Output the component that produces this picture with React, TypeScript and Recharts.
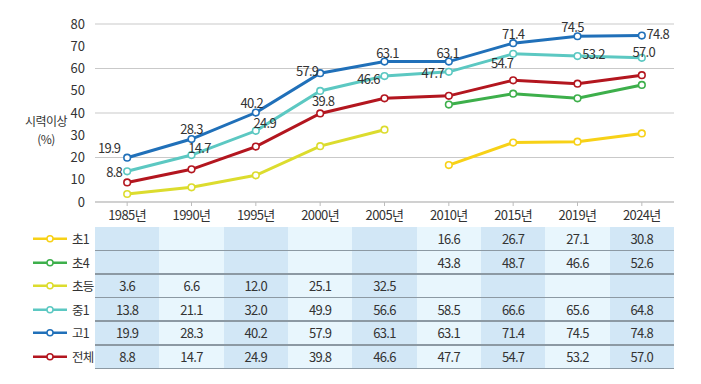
import React from 'react';
import { ComposedChart, Line, XAxis, YAxis, CartesianGrid, LabelList } from 'recharts';

const years = ['1985년', '1990년', '1995년', '2000년', '2005년', '2010년', '2015년', '2019년', '2024년'];
const yTicks = [0, 10, 20, 30, 40, 50, 60, 70, 80];

const cho1 = [null, null, null, null, null, 16.6, 26.7, 27.1, 30.8];
const cho4 = [null, null, null, null, null, 43.8, 48.7, 46.6, 52.6];
const chodeung = [3.6, 6.6, 12.0, 25.1, 32.5, null, null, null, null];
const jung1 = [13.8, 21.1, 32.0, 49.9, 56.6, 58.5, 66.6, 65.6, 64.8];
const go1 = [19.9, 28.3, 40.2, 57.9, 63.1, 63.1, 71.4, 74.5, 74.8];
const total = [8.8, 14.7, 24.9, 39.8, 46.6, 47.7, 54.7, 53.2, 57.0];

const series = [
  { key: 'cho1', name: '초1', values: cho1, color: '#f7d117' },
  { key: 'cho4', name: '초4', values: cho4, color: '#3daf4b' },
  { key: 'chodeung', name: '초등', values: chodeung, color: '#dcdc2e' },
  { key: 'jung1', name: '중1', values: jung1, color: '#5cc8c2' },
  { key: 'go1', name: '고1', values: go1, color: '#2070b9' },
  { key: 'total', name: '전체', values: total, color: '#b3161f' },
];

const data = years.map((y, i) => {
  const row: any = { year: y };
  series.forEach((s) => (row[s.key] = s.values[i]));
  return row;
});

// label nudges relative to each point (hand-placed like the original)
const go1Offsets = [[-18, -10], [0, -11], [-4, -10], [-13, -3], [3, -9], [-1, -9], [0, -10], [-5, -10], [16, -2]];
const totalOffsets = [[-13, -11], [8, -22], [9, -24], [3, -13], [-16, -20], [-16, -23], [-11, -18], [16, -30], [2, -24]];

const FONT = '"Noto Sans CJK KR", "Noto Sans", sans-serif';

const makeLabel = (offsets: number[][]) => (props: any) => {
  const { x, y, value, index } = props;
  if (value == null) return null;
  const [dx, dy] = offsets[index];
  return (
    <text x={x + dx} y={y + dy} textAnchor="middle" dominantBaseline="central"
      fontSize={13} fill="#333" letterSpacing={-0.7} fontFamily={FONT}>
      {value.toFixed(1)}
    </text>
  );
};

const Dot = (color: string) => (props: any) => {
  const { cx, cy, value } = props;
  if (value == null || cx == null || cy == null) return null;
  return <circle key={`${cx}-${cy}`} cx={cx} cy={cy} r={3.3} fill="#fff" stroke={color} strokeWidth={1.6} />;
};

const colW = 579 / 9;
const rowH = 23.6;

const yLabelStyle: React.CSSProperties = {
  position: 'absolute', left: 20, width: 52, textAlign: 'center', fontSize: 12,
  lineHeight: '15px', height: 15, color: '#333', letterSpacing: -0.5,
};

export default function App() {
  return (
    <div style={{ position: 'absolute', left: 0, top: 0, width: 701, height: 384, background: '#fff', fontFamily: FONT }}>
      <div style={{ ...yLabelStyle, top: 113 }}>시력이상</div>
      <div style={{ ...yLabelStyle, top: 131 }}>(%)</div>
      <ComposedChart width={701} height={225} data={data} margin={{ top: 24, right: 27, left: 0, bottom: 0 }}
        style={{ position: 'absolute', left: 0, top: 0 }}>
        <CartesianGrid vertical={false} stroke="#c9c9c9" />
        <XAxis dataKey="year" height={23} stroke="#bdbdbd" tickSize={4} tickMargin={5}
          padding={{ left: colW / 2, right: colW / 2 }}
          tick={{ fontSize: 13, fill: '#333', fontFamily: FONT, letterSpacing: -0.6 }} />
        <YAxis width={95} domain={[0, 80]} ticks={yTicks} axisLine={false} tickLine={false} tickMargin={4}
          tick={{ fontSize: 13, fill: '#333', fontFamily: FONT }} />
        {series.map((s) => (
          <Line key={s.key} dataKey={s.key} stroke={s.color} strokeWidth={3} isAnimationActive={false}
            dot={Dot(s.color)} activeDot={false} connectNulls={false}>
            {s.key === 'go1' && <LabelList dataKey="go1" content={makeLabel(go1Offsets)} />}
            {s.key === 'total' && <LabelList dataKey="total" content={makeLabel(totalOffsets)} />}
          </Line>
        ))}
      </ComposedChart>
      <div style={{ position: 'absolute', left: 0, top: 227 }}>
        {series.map((s, r) => (
          <div key={s.key} style={{ position: 'absolute', top: r * rowH, left: 0, height: rowH, width: 674 }}>
            <svg width={40} height={rowH} style={{ position: 'absolute', left: 30, top: 0 }}>
              <line x1={3} x2={37} y1={rowH / 2} y2={rowH / 2} stroke={s.color} strokeWidth={2.5} />
              <circle cx={20} cy={rowH / 2} r={3} fill="#fff" stroke={s.color} strokeWidth={1.5} />
            </svg>
            <div style={{ position: 'absolute', left: 72, top: 0, lineHeight: `${rowH}px`, fontSize: 12.5, color: '#333', letterSpacing: -0.8 }}>{s.name}</div>
            {years.map((y, c) => (
              <div key={y} style={{
                position: 'absolute', left: 95 + c * colW, top: 0, width: colW, height: rowH,
                background: c % 2 === 0 ? '#d2e7f6' : '#e8f6fd', textAlign: 'center', lineHeight: `${rowH}px`,
                fontSize: 13, color: '#333', letterSpacing: -0.7,
              }}>
                {s.values[c] == null ? '' : (s.values[c] as number).toFixed(1)}
              </div>
            ))}
            {r > 0 && <div style={{ position: 'absolute', left: 95, top: -1, width: 579, height: 1.5, background: '#8c99a3' }} />}
          </div>
        ))}
        <div style={{ position: 'absolute', left: 95, top: 6 * rowH - 1, width: 579, height: 1.5, background: '#8c99a3' }} />
      </div>
    </div>
  );
}
